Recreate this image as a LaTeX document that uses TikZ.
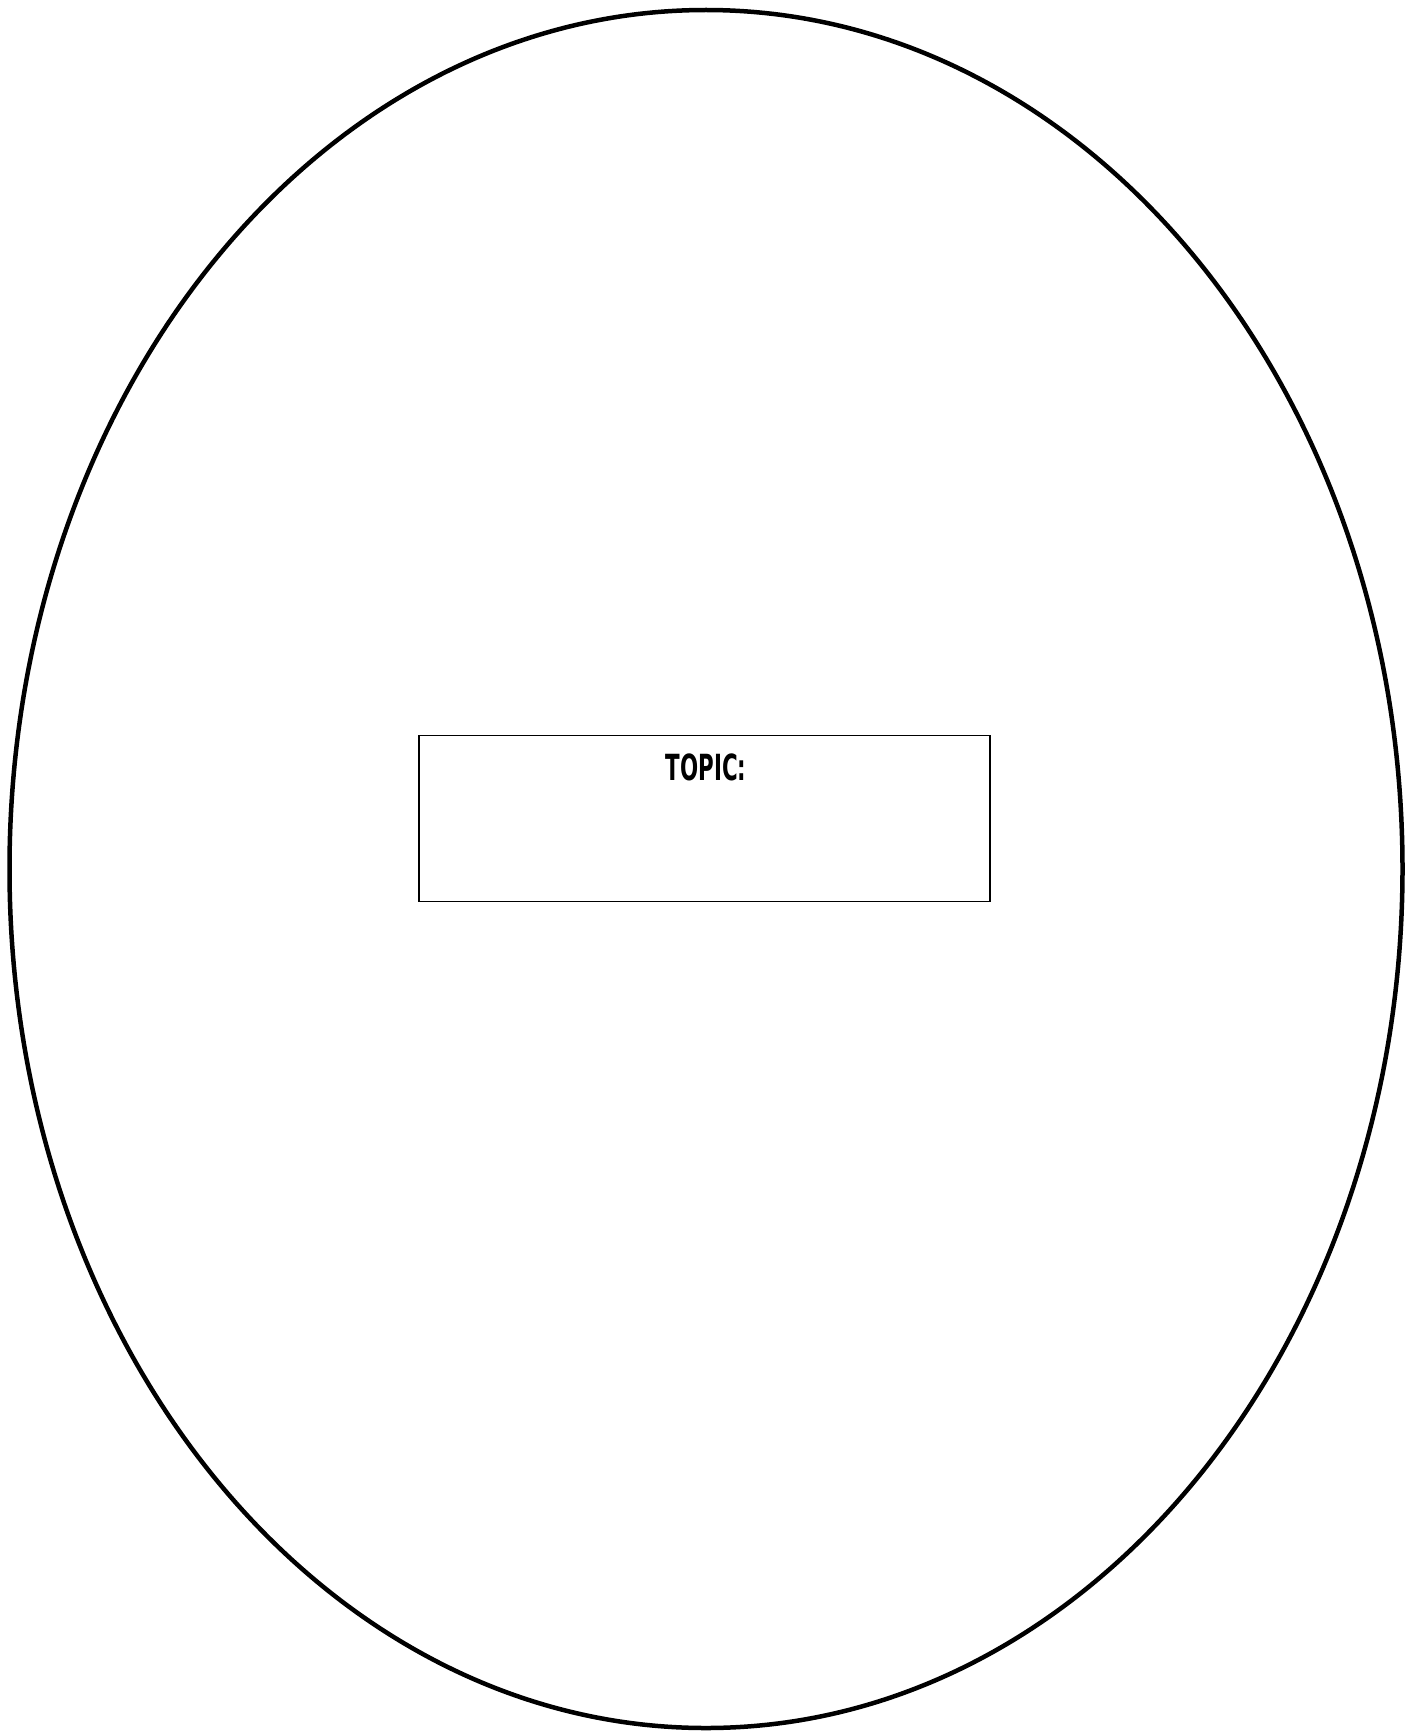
\documentclass[tikz,border=0pt]{standalone}
\usepackage{fontspec}
\setmainfont{DejaVu Sans Condensed}
\usetikzlibrary{shapes.geometric}
\tikzset{
  outer/.style={ellipse, draw=black, line width=4.5pt, inner sep=0pt, minimum width=1393pt, minimum height=1718pt},
  topicbox/.style={rectangle, draw=black, line width=1.8pt, inner sep=0pt, minimum width=571pt, minimum height=166pt},
  topiclabel/.style={inner sep=0pt, font=\fontsize{36}{40}\selectfont\bfseries}
}
\begin{document}
\begin{tikzpicture}[x=1pt,y=-1pt]
\useasboundingbox (0,0) rectangle (1416,1731);
\fill[white] (0,0) rectangle (1416,1731);
\node[outer] (egg) at (706,869) {};
\node[topicbox] (box) at (704.5,818.5) {};
\node[topiclabel] (topic) at (706,767.5) {\scalebox{0.66}[1]{TOPIC:}};
\end{tikzpicture}
\end{document}
